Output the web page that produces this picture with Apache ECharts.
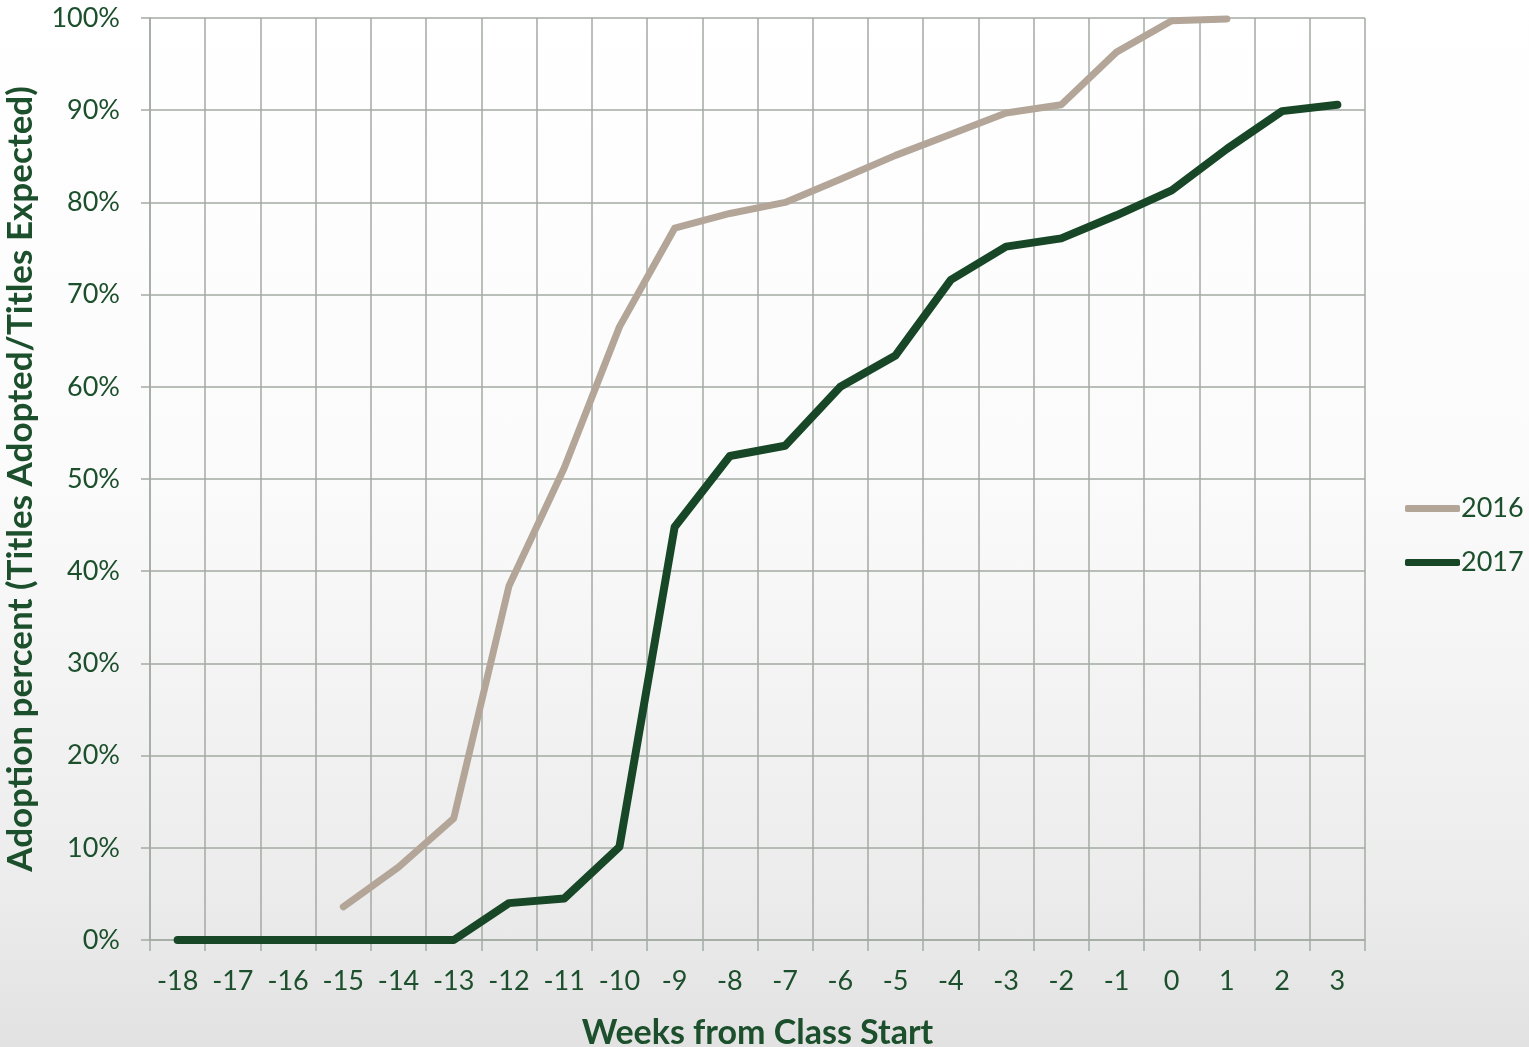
<!DOCTYPE html>
<html>
<head>
<meta charset="utf-8">
<script src="https://cdn.jsdelivr.net/npm/echarts@6/dist/echarts.min.js"></script>
<style>
  html, body { margin: 0; padding: 0; }
  body { width: 1529px; height: 1047px; background: linear-gradient(to bottom, #ffffff 0%, #fbfbfb 45%, #ececec 85%, #e2e2e2 100%); }
  #chart { width: 1529px; height: 1047px; }
</style>
</head>
<body>
<div id="chart"></div>
<script>
const weeks = ['-18','-17','-16','-15','-14','-13','-12','-11','-10','-9','-8','-7','-6','-5','-4','-3','-2','-1','0','1','2','3'];
const series2016 = [null, null, null, 3.6, 7.9, 13.2, 38.4, 51.2, 66.5, 77.2, 78.8, 80.0, 82.5, 85.1, 87.4, 89.7, 90.6, 96.3, 99.7, 99.9, null, null];
const series2017 = [0, 0, 0, 0, 0, 0, 4.0, 4.5, 10.1, 44.8, 52.5, 53.6, 60.0, 63.4, 71.6, 75.2, 76.1, 78.6, 81.3, 85.8, 89.9, 90.6];
const yTicks = [0, 10, 20, 30, 40, 50, 60, 70, 80, 90, 100];

const textColor = '#1c4f2c';
const gridColor = '#a3aaa3';
const fontFam = 'Lato, "Open Sans", sans-serif';

const chart = echarts.init(document.getElementById('chart'));
chart.setOption({
  backgroundColor: 'transparent',
  animation: false,
  grid: { left: 150, right: 164, top: 18, bottom: 107, containLabel: false, outerBoundsMode: 'none' },
  legend: {
    orient: 'vertical',
    left: 1400,
    top: 490,
    icon: 'roundRect',
    itemWidth: 55,
    itemHeight: 7,
    itemGap: 27,
    textStyle: { color: textColor, fontSize: 27, fontFamily: fontFam, padding: [0, 0, 0, -4] },
    data: ['2016', '2017']
  },
  xAxis: {
    type: 'category',
    data: weeks,
    boundaryGap: true,
    name: 'Weeks from Class Start',
    nameLocation: 'middle',
    nameGap: 76,
    nameTextStyle: { color: textColor, fontSize: 34, fontWeight: 'bold', fontFamily: fontFam },
    axisLine: { show: true, lineStyle: { color: gridColor, width: 1.5 } },
    axisTick: { show: true, length: 11, lineStyle: { color: gridColor, width: 1.5 } },
    axisLabel: { color: textColor, fontSize: 27, fontFamily: fontFam, margin: 28 },
    splitLine: { show: true, lineStyle: { color: gridColor, width: 1.5 } }
  },
  yAxis: {
    type: 'value',
    min: 0,
    max: 100,
    interval: 10,
    name: 'Adoption percent (Titles Adopted/Titles Expected)',
    nameLocation: 'middle',
    nameGap: 112,
    nameTextStyle: { color: textColor, fontSize: 35, fontWeight: 'bold', fontFamily: fontFam },
    axisLine: { show: true, lineStyle: { color: gridColor, width: 1.5 } },
    axisTick: { show: true, length: 9, lineStyle: { color: gridColor, width: 1.5 } },
    axisLabel: { color: textColor, fontSize: 27, fontFamily: fontFam, margin: 30, formatter: v => yTicks.includes(v) ? v + '%' : '' },
    splitLine: { show: true, lineStyle: { color: gridColor, width: 1.5 } }
  },
  series: [
    {
      name: '2016',
      type: 'line',
      data: series2016,
      symbol: 'none',
      connectNulls: false,
      color: '#b3a698',
      lineStyle: { color: '#b3a698', width: 7, cap: 'round', join: 'round' }
    },
    {
      name: '2017',
      type: 'line',
      data: series2017,
      symbol: 'none',
      color: '#174726',
      lineStyle: { color: '#174726', width: 8, cap: 'round', join: 'round' }
    }
  ]
});
</script>
</body>
</html>
